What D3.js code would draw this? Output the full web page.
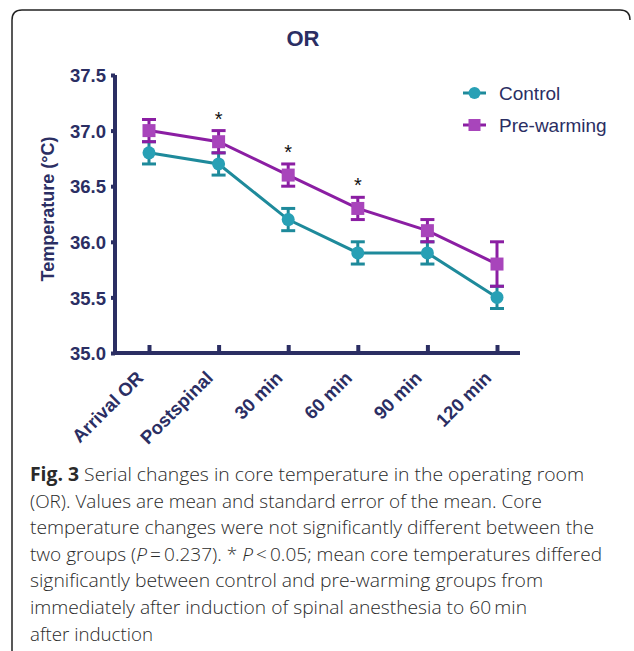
<!DOCTYPE html>
<html><head><meta charset="utf-8">
<script src="https://cdn.jsdelivr.net/npm/d3@7"></script>
<style>body{margin:0;background:#fff}</style>
</head><body>
<script>
const categories = ["Arrival OR","Postspinal","30 min","60 min","90 min","120 min"];
const controlMean = [36.8,36.7,36.2,35.9,35.9,35.5];
const controlSE   = [0.1,0.1,0.1,0.1,0.1,0.1];
const preMean     = [37.0,36.9,36.6,36.3,36.1,35.8];
const preSE       = [0.1,0.1,0.1,0.1,0.1,0.2];
const significant = [false,true,true,true,false,false];
const yTicks = [35.0,35.5,36.0,36.5,37.0,37.5];
const captionLines = [
 ["Fig. 3"," Serial changes in core temperature in the operating room"],
 ["","(OR). Values are mean and standard error of the mean. Core"],
 ["","temperature changes were not significantly different between the"],
 ["","two groups (","P","\u2009=\u20090.237). * ","P","\u2009<\u20090.05; mean core temperatures differed"],
 ["","significantly between control and pre-warming groups from"],
 ["","immediately after induction of spinal anesthesia to 60\u2009min"],
 ["","after induction"]
];
const captionWidths = [554,512,564,572,513,497,123];

const W=634,H=651, navy="#2b2e63";
const cCol="#1e8a9b", cFill="#28a0b5", pCol="#8b1ea3", pFill="#a845bb";
const svg=d3.select("body").append("svg").attr("width",W).attr("height",H);

svg.append("path").attr("d","M12,651 L12,20 Q12,10 22,10 L620,10 Q630,10 630,20")
  .attr("fill","none").attr("stroke","#222").attr("stroke-width",1.5);

svg.append("text").attr("x",303).attr("y",46).attr("text-anchor","middle")
  .attr("font-family","Liberation Sans, Arial").attr("font-weight","bold")
  .attr("font-size",22).attr("fill",navy).text("OR");

const y=d3.scaleLinear().domain([35,37.5]).range([353,75]);
const x=d3.scalePoint().domain(categories).range([149,497]);

const yAxis=svg.append("g").attr("transform","translate(115,0)")
  .call(d3.axisLeft(y).tickValues(yTicks).tickFormat(d3.format(".1f")).tickSize(6));
const xAxis=svg.append("g").attr("transform","translate(0,353)")
  .call(d3.axisBottom(x).tickSize(-6).tickSizeOuter(0));
[yAxis,xAxis].forEach(g=>{
  g.attr("font-size",null).attr("font-family",null);
  g.selectAll("path,line").attr("stroke",navy).attr("stroke-width",4);
  g.selectAll("text").attr("fill",navy).style("font-family","Liberation Sans, Arial")
   .style("font-weight","bold");
});
yAxis.selectAll("text").style("font-size","18.5px");
xAxis.selectAll("text").style("font-size","18.5px");
yAxis.select(".domain").attr("d","M0,75V353");
xAxis.select(".domain").attr("d","M113,0H520");
yAxis.selectAll(".tick line").attr("x2",-4).attr("x1",0);
yAxis.selectAll(".tick text").attr("x",-9).attr("dy","0.36em");
xAxis.selectAll(".tick line").attr("y2",-8);
xAxis.selectAll(".tick text").attr("transform","rotate(-45)").attr("text-anchor","end")
  .attr("x",-22).attr("y",15).attr("dy",0);

svg.append("text").attr("transform","translate(54,209) rotate(-90)").attr("text-anchor","middle")
  .attr("font-family","Liberation Sans, Arial").attr("font-weight","bold").attr("font-size",18)
  .attr("fill",navy).text("Temperature (\u00B0C)");

function series(mean,se,col,fill,shape){
  const g=svg.append("g");
  const pts=categories.map((c,i)=>({c,m:mean[i],s:se[i]}));
  g.append("path").datum(pts).attr("fill","none").attr("stroke",col).attr("stroke-width",3)
   .attr("d",d3.line().x(d=>x(d.c)).y(d=>y(d.m)));
  pts.forEach(d=>{
    const cx=x(d.c);
    g.append("line").attr("x1",cx).attr("x2",cx).attr("y1",y(d.m-d.s)).attr("y2",y(d.m+d.s))
      .attr("stroke",col).attr("stroke-width",3);
    [d.m-d.s,d.m+d.s].forEach(v=>g.append("line").attr("x1",cx-7).attr("x2",cx+7)
      .attr("y1",y(v)).attr("y2",y(v)).attr("stroke",col).attr("stroke-width",3));
    if(shape==="circle") g.append("circle").attr("cx",cx).attr("cy",y(d.m)).attr("r",6.5).attr("fill",fill);
    else g.append("rect").attr("x",cx-6.5).attr("y",y(d.m)-6.5).attr("width",13).attr("height",13).attr("fill",fill);
  });
}
series(controlMean,controlSE,cCol,cFill,"circle");
series(preMean,preSE,pCol,pFill,"square");

categories.forEach((c,i)=>{
  if(significant[i]) svg.append("text").attr("x",x(c)).attr("y",y(preMean[i]+preSE[i])-5)
   .attr("text-anchor","middle").attr("font-family","Liberation Sans, Arial").attr("font-size",20)
   .attr("fill","#111").text("*");
});

// legend
const leg=[["Control",cCol,cFill,"circle",93],["Pre-warming",pCol,pFill,"square",125]];
leg.forEach(([name,col,fill,shape,ly])=>{
  svg.append("line").attr("x1",463).attr("x2",486).attr("y1",ly).attr("y2",ly).attr("stroke",col).attr("stroke-width",3);
  if(shape==="circle") svg.append("circle").attr("cx",474.5).attr("cy",ly).attr("r",6).attr("fill",fill);
  else svg.append("rect").attr("x",468.5).attr("y",ly-6).attr("width",12).attr("height",12).attr("fill",fill);
  svg.append("text").attr("x",499).attr("y",ly+7).attr("font-family","Liberation Sans, Arial")
   .attr("font-size",19).attr("fill",navy).text(name);
});

// caption
captionLines.forEach((ln,i)=>{
  const t=svg.append("text").attr("x",30).attr("y",481+i*26.6).attr("font-family","Open Sans")
    .attr("font-size",19).attr("fill","#2a2a2a")
    .attr("textLength",captionWidths[i]).attr("lengthAdjust","spacingAndGlyphs");
  ln.forEach((part,j)=>{
    if(!part) return;
    const s=t.append("tspan").text(part);
    if(j===0) s.attr("font-weight","bold");
    else if(part==="P") s.attr("font-style","italic").attr("font-weight","300");
    else s.attr("font-weight","300");
  });
});
</script>
</body></html>
